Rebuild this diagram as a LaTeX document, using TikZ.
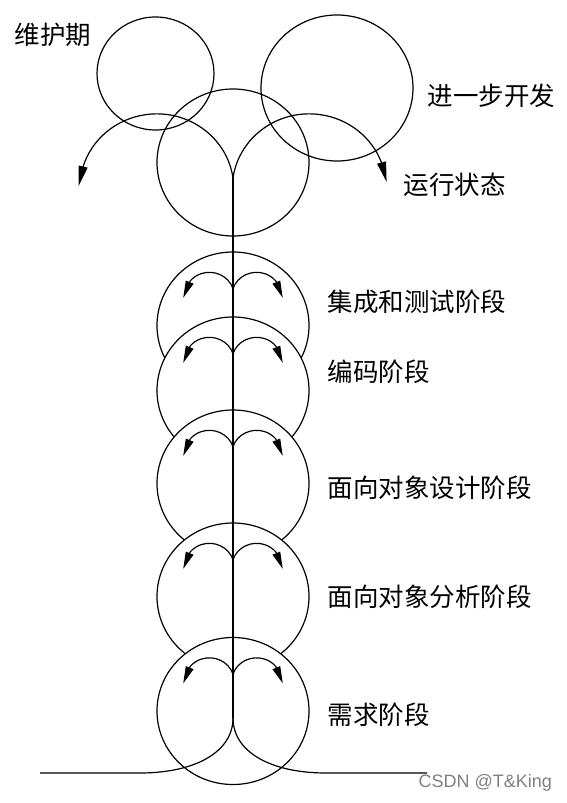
\documentclass[tikz,border=0pt]{standalone}
\usepackage{fontspec}
\usepackage{tikz}
\usetikzlibrary{arrows.meta,shapes.geometric}
\newfontfamily\cjk{Noto Sans CJK SC}
\setsansfont{Liberation Sans}

\begin{document}
\begin{tikzpicture}[x=1pt, y=-1pt, line width=1.2pt,
    phase/.style={ellipse, draw, inner sep=0pt, minimum width=152pt, minimum height=147pt},
    tag/.style={anchor=west, inner sep=0pt, font=\cjk\fontsize{25.5}{28}\selectfont},
    bigtip/.style={-{Triangle[length=20pt, width=9pt]}},
    smalltip/.style={-{Triangle[length=17pt, width=8pt]}}]
    \useasboundingbox (0,0) rectangle (567,803);

    % top: maintenance, further development, running
    \node[phase, minimum width=117pt, minimum height=113pt] (maint) at (155.5,73.5) {};
    \node[phase, minimum height=146pt] (further) at (337,88) {};
    \node[phase] (run) at (233,162.5) {};
    \coordinate (fork) at (233,178);
    \draw[bigtip] (fork) arc[start angle=-8, end angle=-163, x radius=77, y radius=74.5] -- ++(-4.5,19.5);
    \draw[bigtip] (fork) arc[start angle=-172, end angle=-20, x radius=77, y radius=74.5] -- ++(5,19);

    \node[tag] (l-maint) at (14,35) {维护期};
    \node[tag] (l-further) at (427,96) {进一步开发};
    \node[tag] (l-run) at (403,185) {运行状态};

    % stages, each one in front of the one above
    \foreach \name/\y in {integ/325.5, code/390.5, ood/483.5, ooa/596.5, req/711}{
        \node[phase, fill=white] (\name) at (233,\y) {};
        \coordinate (\name-fork) at (233,\y-37);
        \draw[smalltip] (\name-fork) arc[start angle=-19, end angle=-140, x radius=25, y radius=24] -- ++(-7,17);
        \draw[smalltip] (\name-fork) arc[start angle=-161, end angle=-40, x radius=25, y radius=24] -- ++(7,17);
    }
    \node[tag] (l-integ) at (327,302) {集成和测试阶段};
    \node[tag] (l-code) at (327,372) {编码阶段};
    \node[tag] (l-ood) at (327,488) {面向对象设计阶段};
    \node[tag] (l-ooa) at (327,597) {面向对象分析阶段};
    \node[tag] (l-req) at (327,715) {需求阶段};

    \coordinate (base) at (233,718);
    \draw (fork) -- (base);
    \draw (base) .. controls (233,752) and (195,773) .. (140,773) -- (40,773);
    \draw (base) .. controls (233,752) and (271,773) .. (326,773) -- (427,773);

    \node[anchor=west, inner sep=0pt, text=black!50, font=\sffamily\fontsize{18}{20}\selectfont] (mark) at (418,783) {CSDN @T\&King};
\end{tikzpicture}
\end{document}
